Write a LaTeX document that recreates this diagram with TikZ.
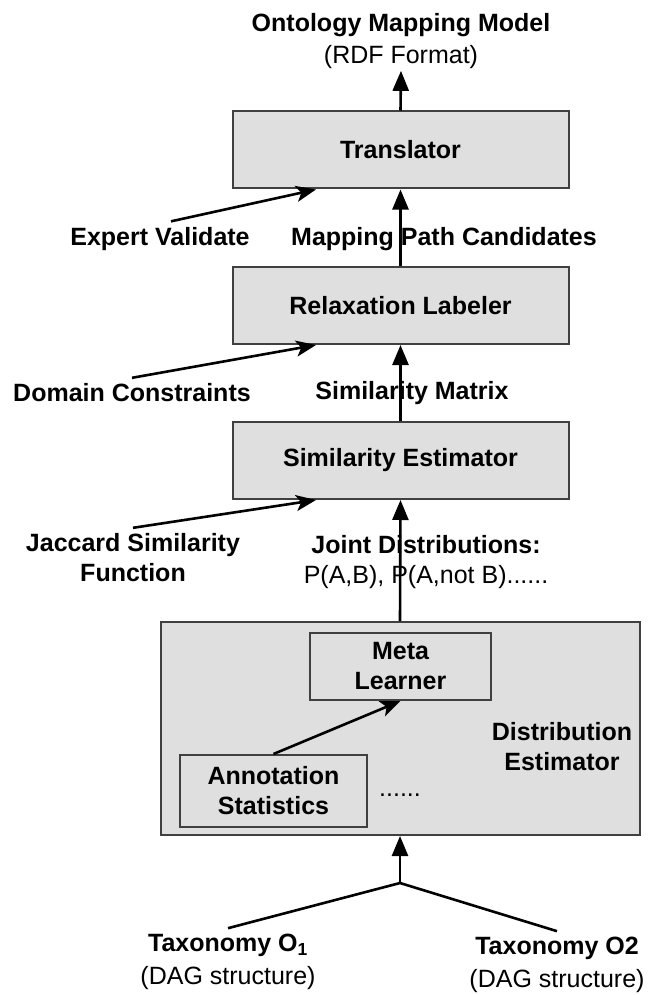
\documentclass[tikz,border=0pt]{standalone}
\usepackage{fontspec}
\setmainfont{Liberation Sans}
\usetikzlibrary{arrows.meta,calc}

\begin{document}
\begin{tikzpicture}[x=1pt,y=-1pt,
  font=\fontsize{25}{30}\selectfont\bfseries,
  stage/.style={draw=black!75, line width=2pt, fill=gray!25, minimum width=336pt, minimum height=77pt, inner sep=0pt},
  inbox/.style={draw=black!75, line width=2pt, fill=gray!25, align=center, inner sep=0pt},
  lbl/.style={align=center, inner sep=2pt},
  src/.style={lbl, outer sep=4pt},
  up/.style={line width=2.6pt, -{Triangle[width=16pt,length=20pt]}},
  side/.style={line width=2.6pt, -{Stealth[width=16pt,length=20pt,inset=5pt]}}]
\useasboundingbox (0,0) rectangle (653,995);
% processing stages
\node[stage] (trans) at (400.5,150) {Translator};
\node[stage] (relax) at (400.5,305.5) {Relaxation Labeler};
\node[stage] (simest) at (400.5,460.5) {Similarity Estimator};
\node[stage, minimum width=479pt, minimum height=213pt] (dist) at (400,728.5) {};
\node[inbox, minimum width=181pt, minimum height=67pt] (meta) at (400.5,666.5) {Meta\\Learner};
\node[inbox, minimum width=187pt, minimum height=72pt] (annot) at (273.5,791) {Annotation\\Statistics};
\node[lbl] (distlbl) at (562,747) {Distribution\\Estimator};
\node[lbl, font=\fontsize{25}{30}\selectfont] (dots) at (400,795) {......};
% labels
\node[lbl, font=\fontsize{25}{32}\selectfont\bfseries] (model) at (401,41) {Ontology Mapping Model\\\mdseries(RDF Format)};
\node[src] (expert) at (160,239) {Expert Validate};
\node[lbl] (mpc) at (444,239) {Mapping Path Candidates};
\node[src] (domain) at (132,393) {Domain Constraints};
\node[lbl] (simmat) at (412,393) {Similarity Matrix};
\node[src] (jaccard) at (133,558) {Jaccard Similarity\\Function};
\node[lbl] (joint) at (426,562) {Joint Distributions:\\\mdseries P(A,B), P(A,not B)......};
\node[src, font=\fontsize{25}{33}\selectfont\bfseries] (tax1) at (228,962) {Taxonomy O\textsubscript{1}\\\mdseries(DAG structure)};
\node[src, font=\fontsize{25}{33}\selectfont\bfseries] (tax2) at (557,965) {Taxonomy O2\\\mdseries(DAG structure)};
\coordinate (join) at (400,883);
% connectors
\draw[up] (trans.north) -- (model.south);
\draw[up] (relax.north) -- (trans.south);
\draw[up] (simest.north) -- (relax.south);
\draw[up] (dist.north) -- (simest.south);
\draw[side] ([xshift=11pt]expert.north) -- ($(trans.south west)!.25!(trans.south east)$);
\draw[side] (domain.north) -- ($(relax.south west)!.25!(relax.south east)$);
\draw[side] (jaccard.north) -- ($(simest.south west)!.25!(simest.south east)$);
\draw[side] (annot.north) -- (meta.south);
\draw[line width=2.6pt] (tax1.north) -- (join) -- (tax2.north);
\draw[up] (join) -- (dist.south);
\end{tikzpicture}
\end{document}
